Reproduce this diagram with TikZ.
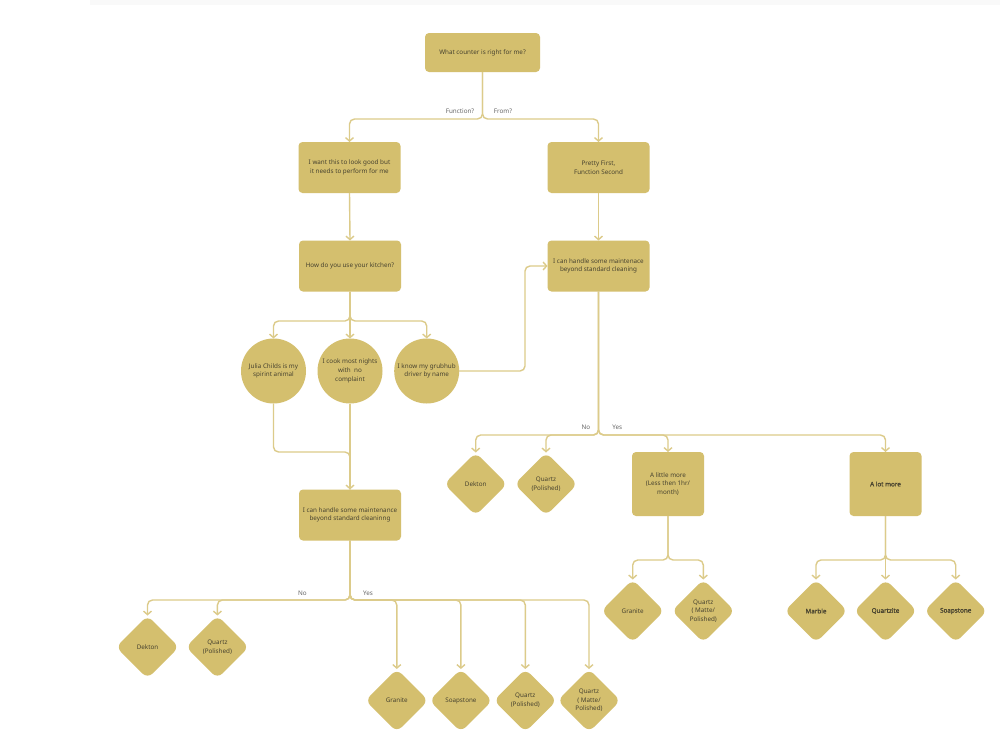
\documentclass[tikz,border=0pt]{standalone}
\usepackage{fontspec}
\setmainfont{Noto Sans}
\newfontfamily\semib{Noto Sans}[FakeBold=1.2]
\usetikzlibrary{shapes.geometric,arrows.meta}
\definecolor{fillc}{HTML}{D4BF6E}
\definecolor{linec}{HTML}{DCCB8A}
\definecolor{txtc}{HTML}{47422F}
\definecolor{lblc}{HTML}{666666}
\definecolor{bandc}{HTML}{F9F9F9}
\begin{document}
\begin{tikzpicture}[x=1pt,y=-1pt,
  txt/.style={text=txtc, font=\fontsize{6.3}{8.7}\selectfont, align=center},
  box/.style={txt, fill=fillc, rounded corners=4pt, inner sep=1pt, outer sep=0pt, minimum width=102pt, minimum height=51pt},
  smallbox/.style={box, minimum width=72pt, minimum height=64pt},
  disc/.style={txt, circle, fill=fillc, inner sep=0pt, outer sep=0pt, minimum size=65pt},
  dia/.style={txt, diamond, aspect=1, fill=fillc, rounded corners=7pt, inner sep=0pt, outer sep=0pt, minimum width=63pt, minimum height=63pt},
  lbl/.style={text=lblc, font=\fontsize{6.3}{8}\selectfont, inner sep=0pt},
  conn/.style={draw=linec, line width=1.4pt, rounded corners=5pt, -{Straight Barb[length=3.5pt,width=8pt]}},
  line/.style={draw=linec, line width=1.4pt, rounded corners=5pt}]
\fill[white] (0,0) rectangle (1000,739);
\useasboundingbox (0,0) rectangle (1000,739);
\fill[bandc] (90,0) rectangle (1000,5);

% nodes
\node[box, minimum width=115pt, minimum height=39pt] (q) at (482.5,52.5) {What counter is right for me?};
\node[box] (a) at (349.5,167.5) {I want this to look good but\\it needs to perform for me};
\node[box] (b) at (598.5,167.5) {Pretty First,\\Function Second};
\node[box] (k) at (350,266) {How do you use your kitchen?};
\node[box] (m1) at (598.5,266) {I can handle some maintenace\\beyond standard cleaning};
\node[disc] (c1) at (273.5,371) {Julia Childs is my\\spirint animal};
\node[disc] (c2) at (350,371) {I cook most nights\\with\ \ no\\complaint};
\node[disc] (c3) at (426.7,371) {I know my grubhub\\driver by name};
\node[box] (m2) at (350,515) {I can handle some maintenance\\beyond standard cleaninng};

\node[dia] (d1) at (147.5,647) {Dekton};
\node[dia] (d2) at (217.4,647) {Quartz\\(Polished)};
\node[dia] (g1) at (396.8,700.5) {Granite};
\node[dia] (s1) at (460.9,700.5) {Soapstone};
\node[dia] (q1) at (525.3,700.5) {Quartz\\(Polished)};
\node[dia] (q2) at (589,700.5) {Quartz\\( Matte/\\Polished)};

\node[dia] (d3) at (475.7,484) {Dekton};
\node[dia] (d4) at (546,484) {Quartz\\(Polished)};
\node[smallbox] (lm) at (668,484) {A little more\\(Less then 1hr/\\month)};
\node[smallbox] (lot) at (885.5,484) {\semib A lot more};

\node[dia] (g2) at (632.7,611) {Granite};
\node[dia] (q3) at (703.3,611) {Quartz\\( Matte/\\Polished)};
\node[dia] (mb) at (816,611) {\semib Marble};
\node[dia] (qz) at (885.5,611) {\semib Quartzite};
\node[dia] (s2) at (955.7,611) {\semib Soapstone};

% junctions
\coordinate (j1) at (482.5,119);
\coordinate (j2) at (350,321);
\coordinate (j3) at (350,600);
\coordinate (j4) at (598.5,435);
\coordinate (j5) at (668,560);
\coordinate (j6) at (885.5,560);
\coordinate (g3) at (525,371);
\coordinate (cj) at (273.5,452);

% connectors
\draw[conn] (q.south) -- (j1) -| (a.north);
\draw[conn] (q.south) -- (j1) -| (b.north);
\draw[conn] (a.south) -- (k.north);
\draw[conn] (b.south) -- (m1.north);
\draw[conn] (k.south) -- (j2) -| (c1.north);
\draw[conn] (k.south) -- (c2.north);
\draw[conn] (k.south) -- (j2) -| (c3.north);
\draw[conn] (c3.east) -- (g3) |- (m1.west);
\draw[line] (c1.south) -- (cj) -| (c2.south |- m2.north);
\draw[conn] (c2.south) -- (m2.north);

\draw[conn] (m2.south) -- (j3) -| (d1.north);
\draw[conn] (m2.south) -- (j3) -| (d2.north);
\draw[conn] (m2.south) -- (j3) -| (g1.north);
\draw[conn] (m2.south) -- (j3) -| (s1.north);
\draw[conn] (m2.south) -- (j3) -| (q1.north);
\draw[conn] (m2.south) -- (j3) -| (q2.north);

\draw[conn] (m1.south) -- (j4) -| (d3.north);
\draw[conn] (m1.south) -- (j4) -| (d4.north);
\draw[conn] (m1.south) -- (j4) -| (lm.north);
\draw[conn] (m1.south) -- (j4) -| (lot.north);

\draw[conn] (lm.south) -- (j5) -| (g2.north);
\draw[conn] (lm.south) -- (j5) -| (q3.north);
\draw[conn] (lot.south) -- (j6) -| (mb.north);
\draw[conn] (lot.south) -- (qz.north);
\draw[conn] (lot.south) -- (j6) -| (s2.north);

% labels
\node[lbl] (lf) at (460,111.5) {Function?};
\node[lbl] (lfr) at (503,111.5) {From?};
\node[lbl] (ln1) at (586,427) {No};
\node[lbl] (ly1) at (617.3,427) {Yes};
\node[lbl] (ln2) at (302.5,593) {No};
\node[lbl] (ly2) at (368,593) {Yes};
\end{tikzpicture}
\end{document}
